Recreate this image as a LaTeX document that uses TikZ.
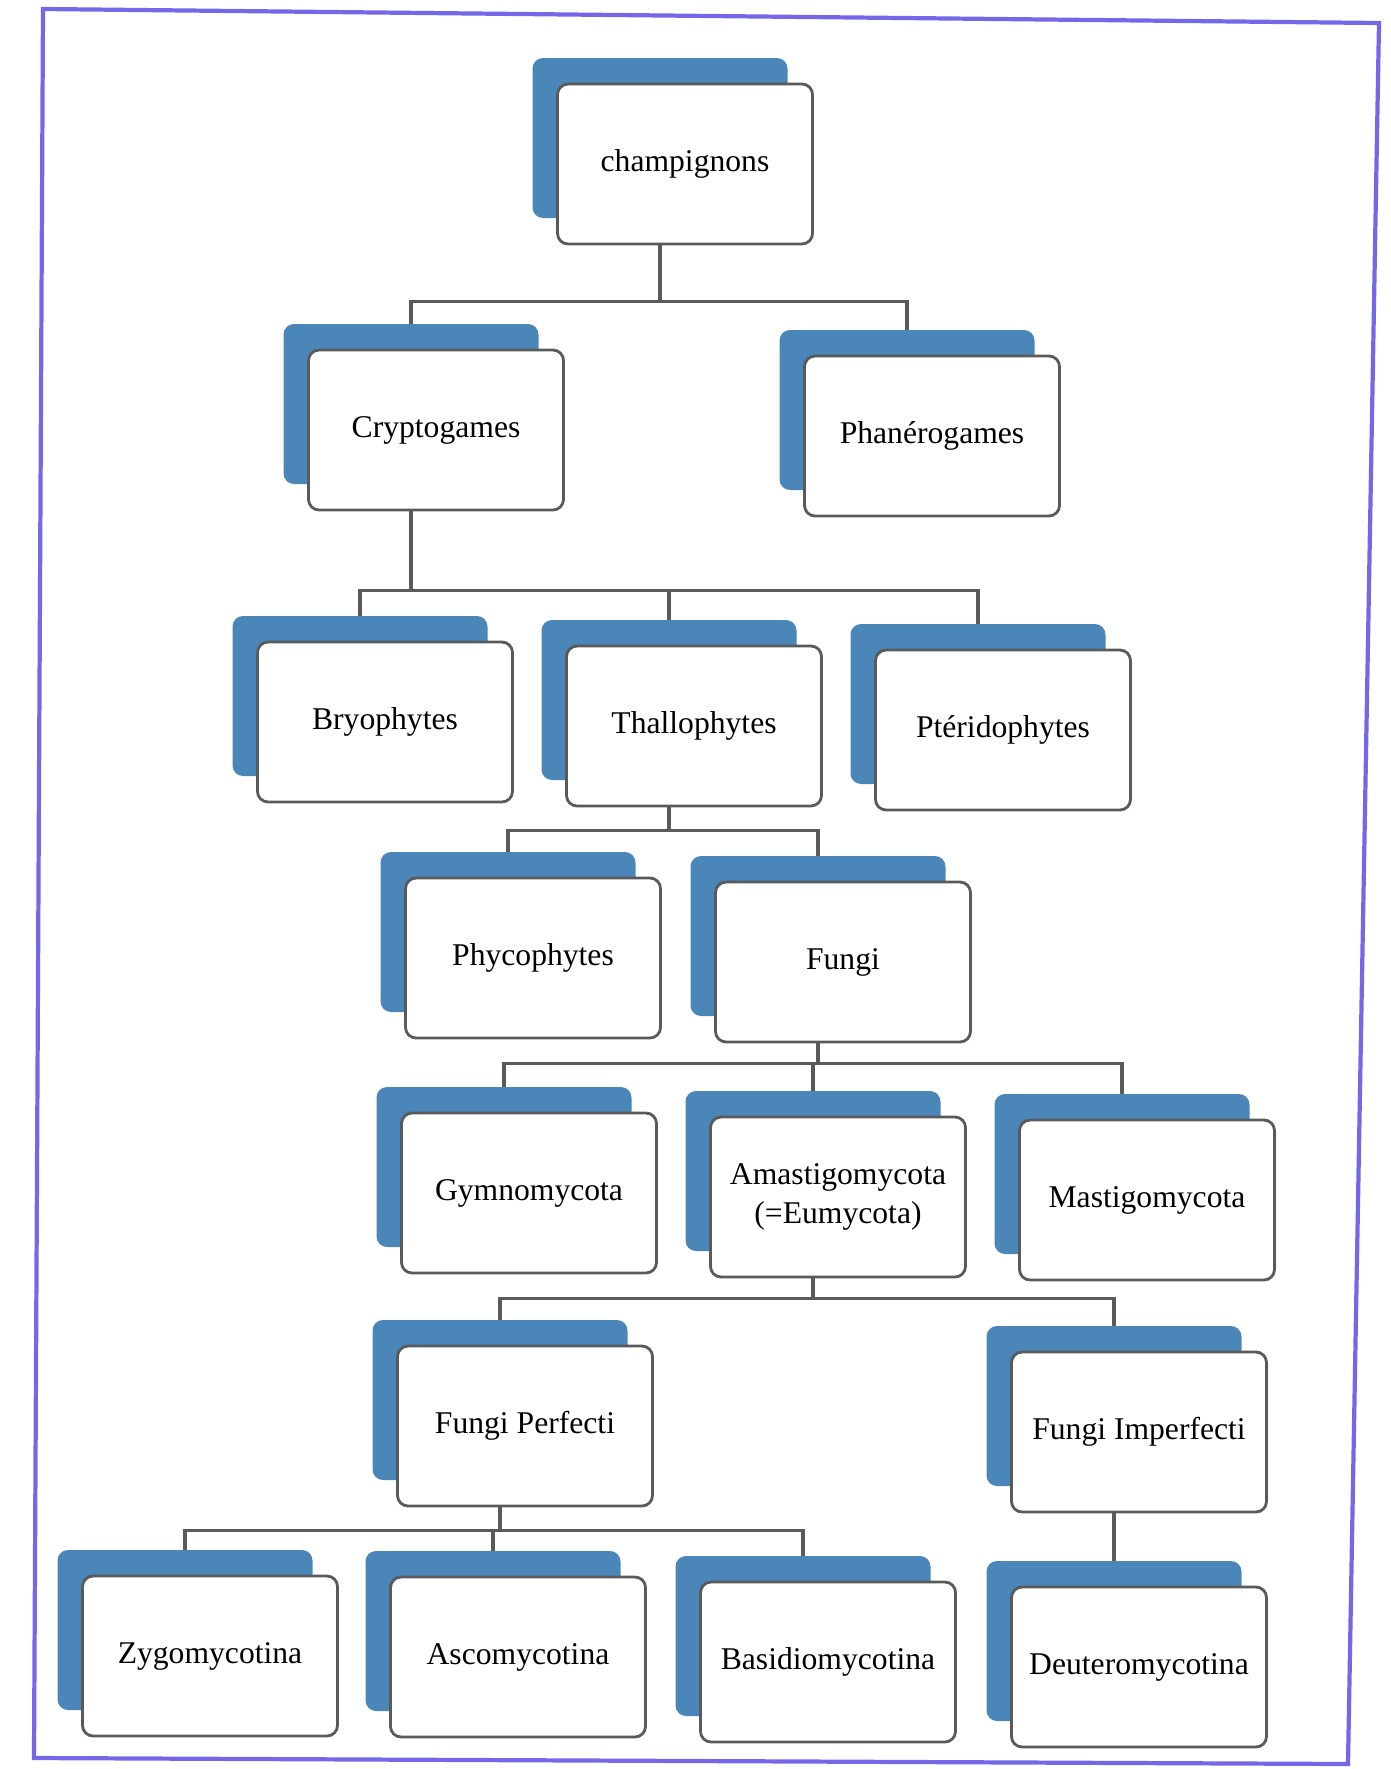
\documentclass[tikz,border=0pt]{standalone}
\usepackage{fontspec}
\setmainfont{Liberation Serif}
\usetikzlibrary{positioning, shadows, backgrounds}
\definecolor{shadeblue}{HTML}{4A86B8}
\definecolor{edgegray}{HTML}{5A5A5A}
\definecolor{framepurple}{HTML}{7468E8}

\begin{document}
\begin{tikzpicture}[
      every node/.style={font=\fontsize{9}{11}\selectfont},
      taxbox/.style={draw=edgegray, line width=0.8pt, rounded corners=3pt, fill=white,
        minimum width=2.55cm, minimum height=1.6cm, inner sep=0pt, align=center,
        copy shadow={shadow xshift=-2.5mm, shadow yshift=2.6mm, fill=shadeblue, draw=none}},
      link/.style={draw=edgegray, line width=0.9pt},
    ]
    \useasboundingbox (0,0) rectangle (13.9,-17.69);
    \draw[framepurple, line width=1.2pt] (0.43,-0.09) -- (13.79,-0.23) -- (13.48,-17.64) -- (0.34,-17.58) -- cycle;

    % levels of the tree
    \node[taxbox] (champ) at (6.85, -1.64) {champignons};
    \node[taxbox] (crypt) at (4.36, -4.30) {Cryptogames};
    \node[taxbox] (phan) at (9.32, -4.36) {Phanérogames};
    \node[taxbox] (bryo) at (3.85, -7.22) {Bryophytes};
    \node[taxbox] (thallo) at (6.94, -7.26) {Thallophytes};
    \node[taxbox] (pteri) at (10.03, -7.30) {Ptéridophytes};
    \node[taxbox] (phyco) at (5.33, -9.58) {Phycophytes};
    \node[taxbox] (fungi) at (8.43, -9.62) {Fungi};
    \node[taxbox] (gymno) at (5.29, -11.93) {Gymnomycota};
    \node[taxbox] (amast) at (8.38, -11.97) {Amastigomycota\\(=Eumycota)};
    \node[taxbox] (mastig) at (11.47, -12.00) {Mastigomycota};
    \node[taxbox] (perf) at (5.25, -14.26) {Fungi Perfecti};
    \node[taxbox] (imperf) at (11.39, -14.32) {Fungi Imperfecti};
    \node[taxbox] (zygo) at (2.10, -16.56) {Zygomycotina};
    \node[taxbox] (asco) at (5.18, -16.57) {Ascomycotina};
    \node[taxbox] (basid) at (8.28, -16.62) {Basidiomycotina};
    \node[taxbox] (deut) at (11.39, -16.67) {Deuteromycotina};

    \begin{scope}[on background layer]
      \draw[link] ([xshift=-2.5mm]champ.south) -- ++(0,-0.56) coordinate (j1);
      \draw[link] (j1) -| ([xshift=-2.5mm]crypt.north);
      \draw[link] (j1) -| ([xshift=-2.5mm]phan.north);

      \draw[link] ([xshift=-2.5mm]crypt.south) -- ++(0,-0.79) coordinate (j2);
      \draw[link] (j2) -| ([xshift=-2.5mm]bryo.north);
      \draw[link] (j2) -| ([xshift=-2.5mm]thallo.north);
      \draw[link] (j2) -| ([xshift=-2.5mm]pteri.north);

      \draw[link] ([xshift=-2.5mm]thallo.south) -- ++(0,-0.23) coordinate (j3);
      \draw[link] (j3) -| ([xshift=-2.5mm]phyco.north);
      \draw[link] (j3) -| ([xshift=-2.5mm]fungi.north);

      \draw[link] ([xshift=-2.5mm]fungi.south) -- ++(0,-0.2) coordinate (j4);
      \draw[link] (j4) -| ([xshift=-2.5mm]gymno.north);
      \draw[link] (j4) -| ([xshift=-2.5mm]amast.north);
      \draw[link] (j4) -| ([xshift=-2.5mm]mastig.north);

      \draw[link] ([xshift=-2.5mm]amast.south) -- ++(0,-0.2) coordinate (j5);
      \draw[link] (j5) -| ([xshift=-2.5mm]perf.north);
      \draw[link] (j5) -| ([xshift=-2.5mm]imperf.north);

      \draw[link] ([xshift=-2.5mm]perf.south) -- ++(0,-0.23) coordinate (j6);
      \draw[link] (j6) -| ([xshift=-2.5mm]zygo.north);
      \draw[link] (j6) -| ([xshift=-2.5mm]asco.north);
      \draw[link] (j6) -| ([xshift=-2.5mm]basid.north);

      \draw[link] ([xshift=-2.5mm]imperf.south) -- ([xshift=-2.5mm]deut.north);
    \end{scope}
  \end{tikzpicture}
\end{document}
